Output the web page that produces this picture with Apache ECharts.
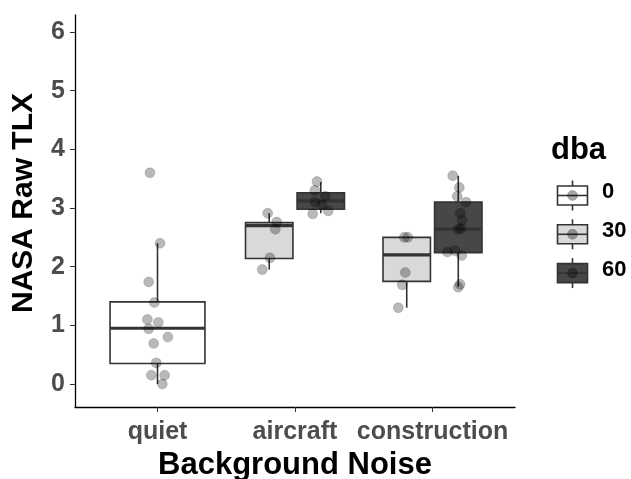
<!DOCTYPE html>
<html>
<head>
<meta charset="utf-8">
<script src="https://cdn.jsdelivr.net/npm/echarts@6/dist/echarts.min.js"></script>
<style>
  html, body { margin: 0; padding: 0; background: #fff; }
  #chart { width: 631px; height: 479px; }
</style>
</head>
<body>
<div id="chart"></div>
<script>
// categories and legend levels
const categories = ['quiet', 'aircraft', 'construction']
const dbaLevels = ['0', '30', '60']
const yTicks = [0, 1, 2, 3, 4, 5, 6]

// box stats: [category index (1-based), lower whisker, q1, median, q3, upper whisker]
const box0 = [[1, 0.00, 0.35, 0.95, 1.40, 2.40]]
const box30 = [[2, 1.95, 2.14, 2.70, 2.75, 2.91], [3, 1.30, 1.75, 2.20, 2.50, 2.50]]
const box60 = [[2, 2.91, 2.98, 3.12, 3.26, 3.44], [3, 1.66, 2.24, 2.64, 3.10, 3.55]]

// jittered observations: [x position, value]
const pts0 = [
  [0.945, 3.60], [1.018, 2.40], [0.936, 1.74], [0.977, 1.39], [0.926, 1.10],
  [1.006, 1.05], [0.936, 0.94], [1.076, 0.80], [0.972, 0.69], [0.991, 0.36],
  [0.955, 0.15], [1.052, 0.15], [1.035, 0.00]
]
const pts30 = [
  [1.801, 2.91], [1.867, 2.76], [1.857, 2.64], [1.818, 2.15], [1.762, 1.95],
  [2.795, 2.50], [2.820, 2.50], [2.802, 1.90], [2.780, 1.69], [2.751, 1.30]
]
const pts60 = [
  [2.160, 3.45], [2.145, 3.30], [2.220, 3.20], [2.145, 3.10], [2.196, 3.05],
  [2.129, 2.90], [2.242, 2.95],
  [3.147, 3.55], [3.195, 3.35], [3.180, 3.20], [3.244, 3.10], [3.202, 2.91],
  [3.215, 2.79], [3.188, 2.64], [3.207, 2.65], [3.108, 2.25], [3.164, 2.27],
  [3.212, 2.19], [3.200, 1.70], [3.188, 1.65]
]

const FONT = "'Liberation Sans', Arial, sans-serif"
const fills = ['#ffffff', '#d9d9d9', '#474747']
const lineColor = '#333333'
const pointStyle = { color: 'rgba(0,0,0,0.34)', borderColor: 'rgba(0,0,0,0.18)', borderWidth: 1 }

function boxRenderer(offset, width, fill) {
  return function (params, api) {
    const x = api.value(0) + offset
    const lo = api.coord([x, api.value(1)])
    const hi = api.coord([x, api.value(5)])
    const a = api.coord([x - width / 2, api.value(4)])
    const b = api.coord([x + width / 2, api.value(2)])
    const mL = api.coord([x - width / 2, api.value(3)])
    const mR = api.coord([x + width / 2, api.value(3)])
    return {
      type: 'group',
      children: [
        { type: 'line', shape: { x1: lo[0], y1: lo[1], x2: hi[0], y2: hi[1] },
          style: { stroke: lineColor, lineWidth: 1.6 } },
        { type: 'rect', shape: { x: a[0], y: a[1], width: b[0] - a[0], height: b[1] - a[1] },
          style: { fill: fill, stroke: lineColor, lineWidth: 1.6 } },
        { type: 'line', shape: { x1: mL[0], y1: mL[1], x2: mR[0], y2: mR[1] },
          style: { stroke: lineColor, lineWidth: 3.2 } }
      ]
    }
  }
}

// legend keys drawn like ggplot's boxplot keys
function legendGraphics() {
  const items = [{
    type: 'text', left: 551, top: 135,
    style: { text: 'dba', font: 'bold 31px ' + FONT, fill: '#000' }
  }]
  dbaLevels.forEach(function (lv, i) {
    const cy = 193 + i * 38.8
    items.push({
      type: 'group', left: 555, top: cy - 15,
      children: [
        { type: 'line', shape: { x1: 15.5, y1: 0, x2: 15.5, y2: 30 }, style: { stroke: lineColor, lineWidth: 1.6 } },
        { type: 'rect', shape: { x: 0.5, y: 5.5, width: 30, height: 19 }, style: { fill: fills[i], stroke: lineColor, lineWidth: 1.6 } },
        { type: 'line', shape: { x1: 0.5, y1: 15, x2: 30.5, y2: 15 }, style: { stroke: lineColor, lineWidth: 1.6 } },
        { type: 'circle', shape: { cx: 15.5, cy: 15, r: 5 }, style: { fill: pointStyle.color, stroke: pointStyle.borderColor, lineWidth: 1 } }
      ]
    })
    items.push({
      type: 'text', left: 602, top: cy - 12,
      style: { text: lv, font: 'bold 22px ' + FONT, fill: '#000' }
    })
  })
  return items
}

const chart = echarts.init(document.getElementById('chart'))
chart.setOption({
  animation: false,
  backgroundColor: '#fff',
  grid: { left: 75, top: 15, width: 440, height: 392, outerBoundsMode: 'none', containLabel: false },
  textStyle: { fontFamily: FONT },
  xAxis: {
    type: 'value', min: 0.4, max: 3.6,
    name: 'Background Noise', nameLocation: 'middle', nameGap: 41,
    nameTextStyle: { fontSize: 31, fontWeight: 'bold', color: '#000', fontFamily: FONT },
    splitLine: { show: false },
    axisLine: { show: true, onZero: false, lineStyle: { color: '#000', width: 1.3 } },
    axisTick: { show: true, customValues: [1, 2, 3], length: 5, lineStyle: { color: lineColor } },
    axisLabel: {
      customValues: [1, 2, 3], margin: 13, fontSize: 25, fontWeight: 'bold', color: '#4d4d4d', fontFamily: FONT,
      formatter: function (v) { return categories[Math.round(v) - 1] }
    }
  },
  yAxis: {
    type: 'value', min: -0.392, max: 6.29,
    name: 'NASA Raw TLX', nameLocation: 'middle', nameGap: 36,
    nameTextStyle: { fontSize: 30, fontWeight: 'bold', color: '#000', fontFamily: FONT, padding: [0, 0, 0, 16] },
    splitLine: { show: false },
    axisLine: { show: true, onZero: false, lineStyle: { color: '#000', width: 1.3 } },
    axisTick: { show: true, customValues: yTicks, length: 5, lineStyle: { color: lineColor } },
    axisLabel: {
      customValues: yTicks, margin: 10, fontSize: 25, fontWeight: 'bold', color: '#4d4d4d', fontFamily: FONT
    }
  },
  graphic: legendGraphics(),
  series: [
    { type: 'custom', name: '0', data: box0, renderItem: boxRenderer(0, 0.69, fills[0]), z: 2 },
    { type: 'custom', name: '30', data: box30, renderItem: boxRenderer(-0.1875, 0.345, fills[1]), z: 2 },
    { type: 'custom', name: '60', data: box60, renderItem: boxRenderer(0.1875, 0.345, fills[2]), z: 2 },
    { type: 'scatter', data: pts0, symbolSize: 10, itemStyle: pointStyle, z: 3 },
    { type: 'scatter', data: pts30, symbolSize: 10, itemStyle: pointStyle, z: 3 },
    { type: 'scatter', data: pts60, symbolSize: 10, itemStyle: pointStyle, z: 3 }
  ]
})
</script>
</body>
</html>
